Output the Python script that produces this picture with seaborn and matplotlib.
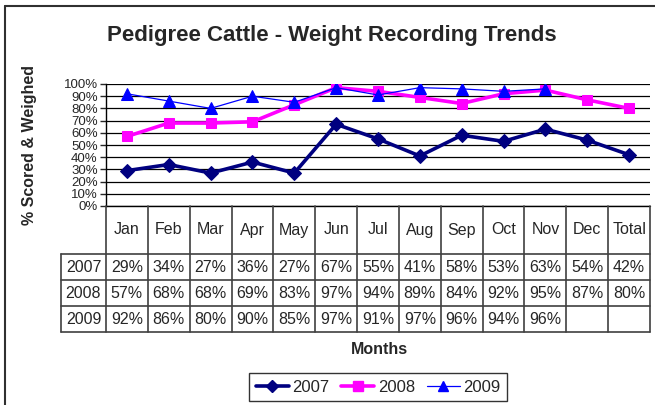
import matplotlib
matplotlib.use("Agg")
import pandas as pd
import matplotlib.pyplot as plt
import seaborn as sns
from matplotlib.lines import Line2D
from matplotlib.ticker import FuncFormatter

# data
months = ["Jan", "Feb", "Mar", "Apr", "May", "Jun", "Jul", "Aug", "Sep", "Oct", "Nov", "Dec", "Total"]
years = ["2007", "2008", "2009"]
v2007 = [29, 34, 27, 36, 27, 67, 55, 41, 58, 53, 63, 54, 42]
v2008 = [57, 68, 68, 69, 83, 97, 94, 89, 84, 92, 95, 87, 80]
v2009 = [92, 86, 80, 90, 85, 97, 91, 97, 96, 94, 96]
yticks = list(range(0, 101, 10))

series = {"2007": v2007, "2008": v2008, "2009": v2009}
colors = {"2007": "#000080", "2008": "#FF00FF", "2009": "#0000FF"}
markers = {"2007": "D", "2008": "s", "2009": "^"}
msizes = {"2007": 7.5, "2008": 7.5, "2009": 8.5}
lwidths = {"2007": 2.6, "2008": 2.6, "2009": 0.9}

sns.set_style("white")
plt.rcParams["font.family"] = ["Liberation Sans", "DejaVu Sans"]

W, H = 655, 405
fig = plt.figure(figsize=(W / 100, H / 100), dpi=100)


def fx(px):
    return px / W


def fy(py):
    return 1 - py / H


x0, x1 = 106, 650
ytop, ybot = 84, 206
ax = fig.add_axes([fx(x0), fy(ybot), fx(x1) - fx(x0), fy(ytop) - fy(ybot)])

for yr in years:
    vals = series[yr]
    df = pd.DataFrame({"pos": range(len(vals)), "val": vals})
    sns.lineplot(data=df, x="pos", y="val", ax=ax, color=colors[yr],
                 lw=lwidths[yr], marker=markers[yr], ms=msizes[yr],
                 markeredgecolor=colors[yr], label=yr, legend=False)

ax.set_xlim(-0.5, len(months) - 0.5)
ax.set_ylim(0, 100)
ax.set_yticks(yticks)
ax.yaxis.set_major_formatter(FuncFormatter(lambda v, p: f"{v:.0f}%"))
ax.set_xticks([])
ax.set_xlabel("")
ax.set_ylabel("")
ax.tick_params(axis="y", left=True, length=4.5, width=1, pad=1.5, labelsize=9.5, direction="out")
ax.grid(axis="y", color="black", lw=0.9)
ax.set_axisbelow(True)
for s in ["top", "right", "bottom"]:
    ax.spines[s].set_visible(False)
ax.spines["left"].set_color("black")
ax.spines["left"].set_linewidth(1)
ax.patch.set_alpha(0)

# data table below the plot
tx0 = 61
cw = (x1 - x0) / len(months)
tab = fig.add_axes([fx(tx0), fy(332), fx(x1) - fx(tx0), fy(206) - fy(332)])
left_lim = -0.5 - (x0 - tx0) / cw
tab.set_xlim(left_lim, len(months) - 0.5)
tab.set_ylim(332, 206)
tab.axis("off")

lc = "#404040"
row_lines = [254, 280, 306, 332]
tab.plot([-0.5, len(months) - 0.5], [206, 206], color="black", lw=1, clip_on=False)
for yl in row_lines:
    tab.plot([left_lim, len(months) - 0.5], [yl, yl], color=lc, lw=1.2, clip_on=False)
for k in range(len(months) + 1):
    tab.plot([k - 0.5, k - 0.5], [206, 332], color=lc, lw=1.2, clip_on=False)
tab.plot([left_lim, left_lim], [254, 332], color=lc, lw=1.2, clip_on=False)

for i, m in enumerate(months):
    tab.text(i, 230, m, ha="center", va="center", fontsize=11.5)
for r, yr in enumerate(years):
    yc = (row_lines[r] + row_lines[r + 1]) / 2
    tab.text((left_lim - 0.5) / 2, yc, yr, ha="center", va="center", fontsize=11.5)
    for i, v in enumerate(series[yr]):
        tab.text(i, yc, f"{v}%", ha="center", va="center", fontsize=11.5)

# titles
fig.text(fx(332), fy(36), "Pedigree Cattle - Weight Recording Trends",
         ha="center", va="center", fontsize=16, fontweight="bold")
fig.text(fx(30), fy(145), "% Scored & Weighed", rotation=90,
         ha="center", va="center", fontsize=11.5, fontweight="bold")
fig.text(fx(379), fy(349), "Months", ha="center", va="center",
         fontsize=11.5, fontweight="bold")

handles = [Line2D([0], [0], color=colors[y], lw=lwidths[y], marker=markers[y],
                  ms=msizes[y] - 1, markeredgecolor=colors[y]) for y in years]
leg = fig.legend(handles, years, loc="center", bbox_to_anchor=(fx(378), fy(387)),
                 ncol=3, fontsize=12, frameon=True, fancybox=False,
                 handlelength=2.0, columnspacing=0.7, handletextpad=0.2,
                 borderpad=0.4)
leg.get_frame().set_edgecolor("black")
leg.get_frame().set_linewidth(1)

# outer chart frame (cut off at right and bottom)
fig.add_artist(Line2D([fx(5), fx(5)], [fy(6), 0], color="#303030", lw=1.5))
fig.add_artist(Line2D([fx(5), 1], [fy(6), fy(6)], color="#303030", lw=1.5))

fig.savefig("out.png", dpi=100)
